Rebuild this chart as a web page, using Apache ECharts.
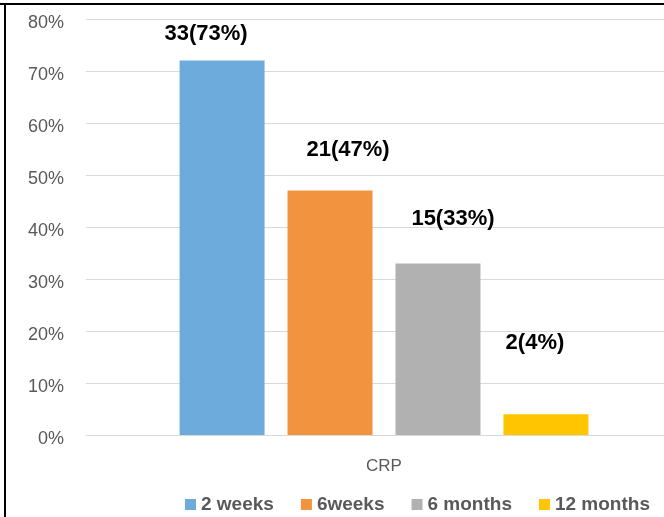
<!DOCTYPE html>
<html>
<head>
<meta charset="utf-8">
<script src="https://cdn.jsdelivr.net/npm/echarts@6/dist/echarts.min.js"></script>
<style>
html,body{margin:0;padding:0;background:#fff;overflow:hidden;width:664px;height:517px;}
#chart{width:682px;height:517px;position:relative;}
</style>
</head>
<body>
<div id="chart"></div>
<script>
// Data
const categories = ['CRP'];
const seriesNames = ['2 weeks', '6weeks', '6 months', '12 months'];
const barValues = [72, 47, 33, 4];      // bar heights in %
const counts = [33, 21, 15, 2];         // label counts
const labelPercents = [73, 47, 33, 4];  // label percents
const yTicks = [0, 10, 20, 30, 40, 50, 60, 70, 80];

// Styles
const colors = ['#6EABDD', '#F29340', '#B1B1B1', '#FFC600'];
const labelOffsets = [[-16, -11], [18, -25], [15, -28], [-11, -55]];

const chart = echarts.init(document.getElementById('chart'), null, {renderer: 'canvas'});

const series = seriesNames.map((name, i) => ({
  name: name,
  type: 'bar',
  barWidth: 85,
  barGap: '27%',
  itemStyle: {color: colors[i]},
  data: [barValues[i]],
  label: {
    show: true,
    position: 'top',
    offset: labelOffsets[i],
    formatter: () => counts[i] + '(' + labelPercents[i] + '%)',
    fontFamily: 'Liberation Sans',
    fontWeight: 'bold',
    fontSize: 22,
    color: '#000'
  }
}));

chart.setOption({
  animation: false,
  color: colors,
  grid: {left: 86, top: 19, width: 596, height: 416, containLabel: false},
  xAxis: {
    type: 'category',
    data: categories,
    axisLine: {lineStyle: {color: '#D9D9D9', width: 1}},
    axisTick: {show: false},
    axisLabel: {color: '#595959', fontFamily: 'Liberation Sans', fontSize: 17, margin: 23}
  },
  yAxis: {
    type: 'value',
    min: yTicks[0],
    max: yTicks[yTicks.length - 1],
    interval: 10,
    axisLine: {show: false},
    axisTick: {show: false},
    splitLine: {lineStyle: {color: '#D9D9D9', width: 1}},
    axisLabel: {
      formatter: (v) => '{t|' + v + '%}',
      margin: 22,
      rich: {
        t: {
          color: '#595959',
          fontFamily: 'Liberation Sans',
          fontSize: 18,
          padding: [8, 0, 0, 0]
        }
      }
    }
  },
  legend: {
    data: seriesNames,
    left: 180,
    top: 490,
    icon: 'rect',
    itemWidth: 11,
    itemHeight: 11,
    itemGap: 27,
    textStyle: {color: '#595959', fontFamily: 'Liberation Sans', fontWeight: 'bold', fontSize: 19}
  },
  graphic: [
    {type: 'line', shape: {x1: 0, y1: 4, x2: 682, y2: 4}, style: {stroke: '#000', lineWidth: 2}, silent: true},
    {type: 'line', shape: {x1: 5, y1: 3, x2: 5, y2: 517}, style: {stroke: '#000', lineWidth: 2}, silent: true}
  ],
  series: series
});
</script>
</body>
</html>
